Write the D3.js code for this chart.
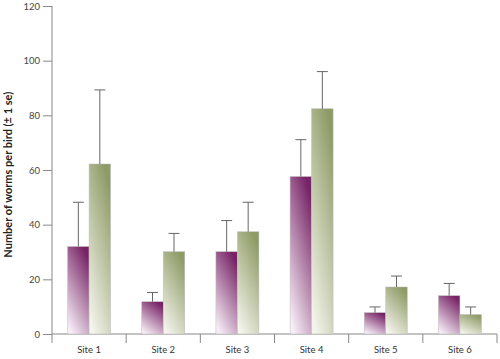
<!DOCTYPE html>
<html>
<head>
<meta charset="utf-8">
<script src="https://cdn.jsdelivr.net/npm/d3@7"></script>
<style>
  body { margin: 0; background: #fff; }
  text { font-family: Lato, "Open Sans", sans-serif; }
</style>
</head>
<body>
<div id="chart"></div>
<script>
// data
var sites = ["Site 1", "Site 2", "Site 3", "Site 4", "Site 5", "Site 6"];
var seriesA = [32, 11.8, 30.1, 57.6, 7.8, 14];
var errA = [16.2, 3.4, 11.4, 13.5, 2.1, 4.5];
var seriesB = [62.2, 30.1, 37.4, 82.4, 17.2, 7.1];
var errB = [27.1, 6.7, 10.8, 13.6, 4, 2.8];
var yTicks = [0, 20, 40, 60, 80, 100, 120];

var width = 500, height = 359;
var margin = { top: 6, right: 3, bottom: 25, left: 52 };

var svg = d3.select("#chart").append("svg")
  .attr("width", width)
  .attr("height", height);

var defs = svg.append("defs");
function grad(id, dark, light) {
  var g = defs.append("linearGradient").attr("id", id)
    .attr("x1", "70%").attr("y1", "0%").attr("x2", "20%").attr("y2", "100%");
  g.append("stop").attr("offset", "0%").attr("stop-color", dark);
  g.append("stop").attr("offset", "100%").attr("stop-color", light);
}
grad("gA", "#772466", "#f6eef6");
grad("gB", "#8e9b66", "#f4f4ec");

var x = d3.scaleBand()
  .domain(sites)
  .range([margin.left, width - margin.right]);

var y = d3.scaleLinear()
  .domain([0, 120])
  .range([height - margin.bottom, margin.top]);

var barW = 21.5;

// y axis
var yAxis = svg.append("g")
  .attr("transform", "translate(" + margin.left + ",0)")
  .call(d3.axisLeft(y).tickValues(yTicks).tickSize(9).tickPadding(3));
yAxis.select(".domain").remove();
yAxis.append("line")
  .attr("x1", 0).attr("x2", 0)
  .attr("y1", y(120)).attr("y2", y(0) + 9)
  .attr("stroke", "#888");
yAxis.selectAll(".tick line").attr("stroke", "#888");
yAxis.selectAll(".tick text").attr("fill", "#444").style("font-size", "9.5px");

// x axis
var xAxis = svg.append("g")
  .attr("transform", "translate(0," + y(0) + ")");
xAxis.append("line")
  .attr("x1", margin.left).attr("x2", width - margin.right)
  .attr("stroke", "#888");
xAxis.selectAll(".sep")
  .data(sites)
  .join("line")
  .attr("class", "sep")
  .attr("x1", d => x(d) + x.bandwidth())
  .attr("x2", d => x(d) + x.bandwidth())
  .attr("y1", 0).attr("y2", 9)
  .attr("stroke", "#888");
xAxis.selectAll(".lbl")
  .data(sites)
  .join("text")
  .attr("class", "lbl")
  .attr("x", d => x(d) + x.bandwidth() / 2)
  .attr("y", 19)
  .attr("text-anchor", "middle")
  .attr("fill", "#333")
  .style("font-size", "9.5px")
  .text(d => d);

// bars
function drawSeries(vals, errs, offset, fill) {
  var g = svg.append("g");
  g.selectAll("rect")
    .data(vals)
    .join("rect")
    .attr("x", (d, i) => x(sites[i]) + x.bandwidth() / 2 + offset)
    .attr("y", d => y(d))
    .attr("width", barW)
    .attr("height", d => y(0) - y(d))
    .attr("fill", "url(#" + fill + ")")
    .attr("stroke", "#bbb")
    .attr("stroke-width", 0.5);
  var cx = (d, i) => x(sites[i]) + x.bandwidth() / 2 + offset + barW / 2;
  g.selectAll(".err")
    .data(vals)
    .join("line")
    .attr("class", "err")
    .attr("x1", cx).attr("x2", cx)
    .attr("y1", d => y(d))
    .attr("y2", (d, i) => y(d + errs[i]))
    .attr("stroke", "#666");
  g.selectAll(".cap")
    .data(vals)
    .join("line")
    .attr("class", "cap")
    .attr("x1", (d, i) => cx(d, i) - 5.5)
    .attr("x2", (d, i) => cx(d, i) + 5.5)
    .attr("y1", (d, i) => y(d + errs[i]))
    .attr("y2", (d, i) => y(d + errs[i]))
    .attr("stroke", "#666");
}
drawSeries(seriesA, errA, -barW, "gA");
drawSeries(seriesB, errB, 0, "gB");

// y label
svg.append("text")
  .attr("transform", "translate(12," + (y(59) + 2) + ") rotate(-90)")
  .attr("text-anchor", "middle")
  .attr("font-weight", "bold")
  .attr("fill", "#222")
  .style("font-size", "11px")
  .text("Number of worms per bird (\u00b1 1 se)");
</script>
</body>
</html>
